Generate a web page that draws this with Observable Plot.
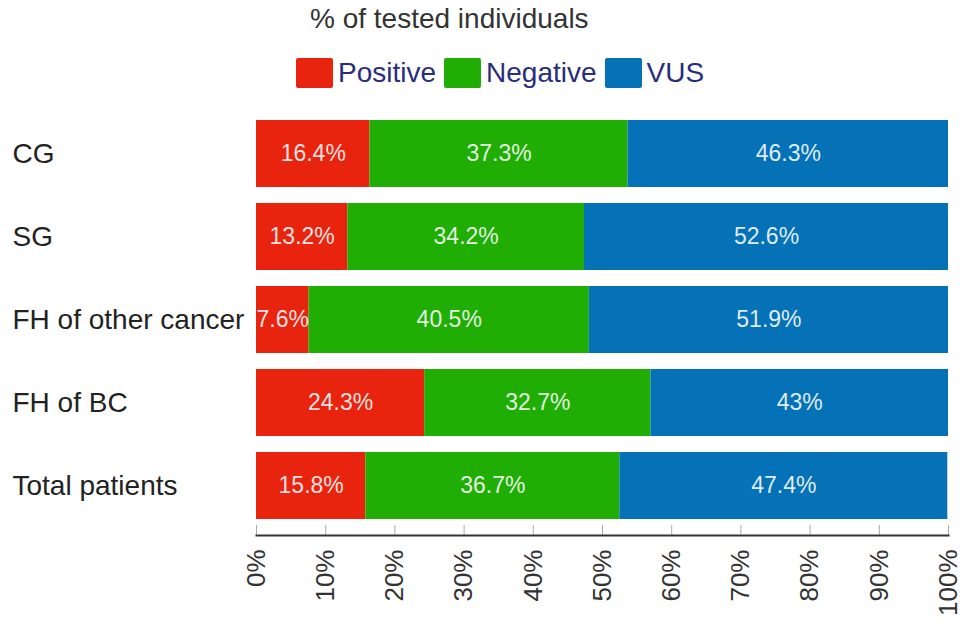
<!DOCTYPE html>
<html>
<head>
<meta charset="utf-8">
<script src="https://cdn.jsdelivr.net/npm/d3@7"></script>
<script src="https://cdn.jsdelivr.net/npm/@observablehq/plot@0.6"></script>
<style>
  body { margin: 0; background: #fff; font-family: "Liberation Sans", Arial, sans-serif; }
  #head { position: relative; width: 969px; height: 100px; }
  #title { position: absolute; left: 310px; top: 3px; font-size: 28px; color: #333; white-space: nowrap; }
  #legend { position: absolute; left: 296px; top: 57px; display: flex; align-items: center; white-space: nowrap; }
  .sw { width: 37px; height: 30px; border-radius: 2px; margin-right: 5px; }
  .lab { font-size: 28px; color: #2a2d7c; margin-right: 8px; }
</style>
</head>
<body>
<div id="head">
  <div id="title">% of tested individuals</div>
  <div id="legend"></div>
</div>
<div id="chart"></div>
<script>
const groups = ["CG", "SG", "FH of other cancer", "FH of BC", "Total patients"];
const statuses = ["Positive", "Negative", "VUS"];
const colors = ["#e8240f", "#20ae05", "#0572b8"];
const positive = [16.4, 13.2, 7.6, 24.3, 15.8];
const negative = [37.3, 34.2, 40.5, 32.7, 36.7];
const vus = [46.3, 52.6, 51.9, 43, 47.4];
const tickValues = [0, 10, 20, 30, 40, 50, 60, 70, 80, 90, 100];

const rows = groups.flatMap((g, i) => [
  {group: g, status: "Positive", value: positive[i]},
  {group: g, status: "Negative", value: negative[i]},
  {group: g, status: "VUS", value: vus[i]}
]);

// legend
const legend = d3.select("#legend");
statuses.forEach((s, i) => {
  legend.append("div").attr("class", "sw").style("background", colors[i]);
  legend.append("div").attr("class", "lab").text(s);
});

const H = 526;
const mTop = 4, mBottom = 91;

let chart = Plot.plot({
  width: 969,
  height: H,
  marginTop: mTop,
  marginBottom: mBottom,
  marginLeft: 256,
  marginRight: 21,
  style: {fontFamily: "Liberation Sans, Arial, sans-serif", background: "white", overflow: "visible"},
  x: {domain: [0, 100]},
  y: {domain: groups, padding: 0.19},
  color: {domain: statuses, range: colors},
  marks: [
    Plot.barX(rows, Plot.stackX({x: "value", y: "group", fill: "status"})),
    Plot.text(rows, Plot.stackX({
      x: "value", y: "group", z: "status",
      text: d => d.value + "%",
      fill: "white", fillOpacity: 0.88, fontSize: 23
    })),
    Plot.ruleX(tickValues, {x: d => d, stroke: "#aaa", insetTop: H - mTop - mBottom - 10}),
    Plot.frame({anchor: "bottom", stroke: "#333", strokeWidth: 2}),
    Plot.axisX({
      ticks: tickValues, tickFormat: d => d + "%", tickSize: 0, tickPadding: 14,
      tickRotate: -90, textAnchor: "end", fontSize: 26, fill: "#333", label: null
    }),
    Plot.axisY({tickSize: 0, tickPadding: 244, textAnchor: "start", fontSize: 28, fill: "#222", label: null})
  ]
});

d3.select("#chart").append(() => chart);
</script>
</body>
</html>
